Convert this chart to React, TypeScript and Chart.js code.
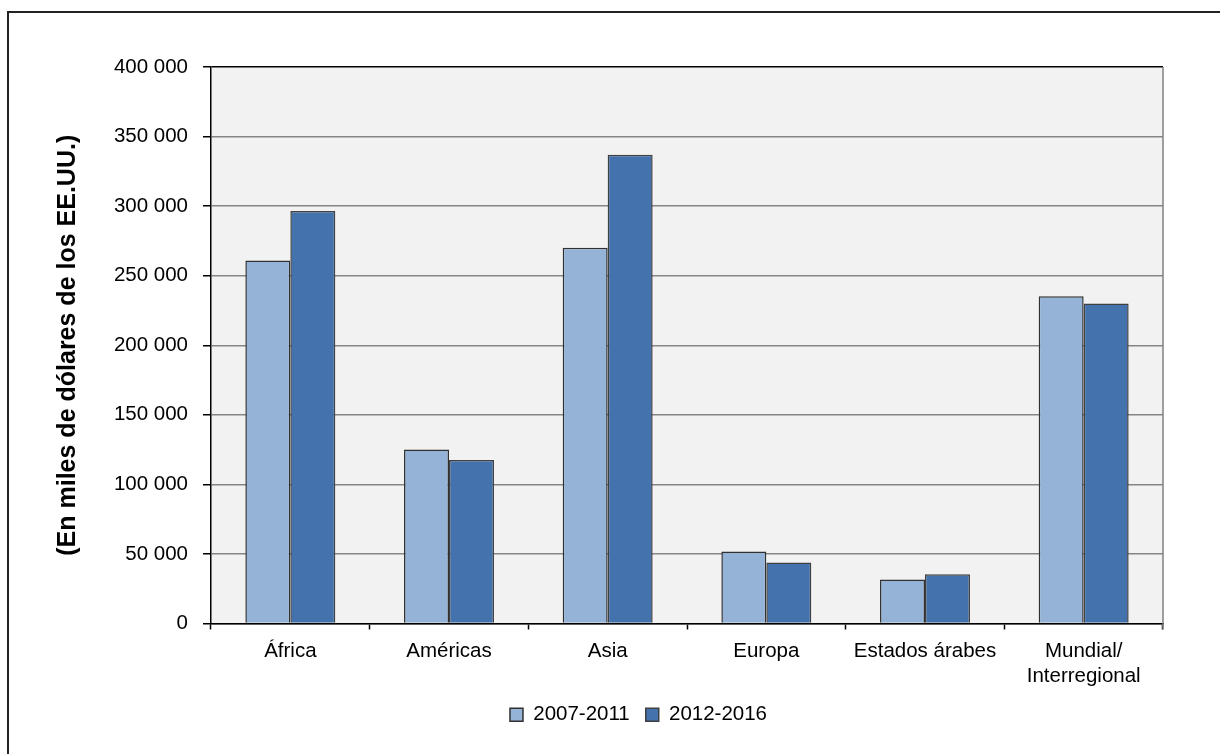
import React, { useEffect, useRef } from 'react';
import { Chart, registerables } from 'chart.js';

Chart.register(...registerables);

const categories: (string | string[])[] = ['África', 'Américas', 'Asia', 'Europa', 'Estados árabes', ['Mundial/', 'Interregional']];
const seriesLabels = ['2007-2011', '2012-2016'];
const values2007_2011 = [261000, 125000, 270000, 51700, 31600, 235300];
const values2012_2016 = [296500, 117500, 337000, 43800, 35400, 230000];
const yMin = 0;
const yMax = 400000;
const yStep = 50000;
const yTitle = '(En miles de dólares de los EE.UU.)';

const FONT = '"Liberation Sans", Arial, sans-serif';

const formatThousands = (v: number) => String(v).replace(/\B(?=(\d{3})+(?!\d))/g, ' ');

const plotDecor = {
  id: 'plotDecor',
  beforeDraw(chart: any) {
    const { ctx, chartArea } = chart;
    ctx.save();
    ctx.fillStyle = '#f2f2f2';
    ctx.fillRect(chartArea.left, chartArea.top, chartArea.right - chartArea.left, chartArea.bottom - chartArea.top);
    ctx.restore();
  },
  afterDraw(chart: any) {
    const { ctx, chartArea } = chart;
    ctx.save();
    ctx.strokeStyle = '#808080';
    ctx.lineWidth = 1.5;
    ctx.beginPath();
    ctx.moveTo(chartArea.right, chartArea.top);
    ctx.lineTo(chartArea.right, chartArea.bottom + 6);
    ctx.stroke();
    ctx.restore();
  },
  afterLayout(chart: any) {
    const lg = chart.legend;
    if (lg) {
      lg.left += 57;
      lg.right += 57;
    }
  },
};

export default function App() {
  const ref = useRef<HTMLCanvasElement | null>(null);

  useEffect(() => {
    if (!ref.current) return;
    Chart.defaults.font.family = FONT;
    Chart.defaults.color = '#000';
    const chart = new Chart(ref.current, {
      type: 'bar',
      data: {
        labels: categories,
        datasets: [
          {
            label: seriesLabels[0],
            data: values2007_2011,
            backgroundColor: '#95b3d7',
            borderColor: '#303030',
            borderWidth: 1.5,
          },
          {
            label: seriesLabels[1],
            data: values2012_2016,
            backgroundColor: '#4372ad',
            borderColor: '#404040',
            borderWidth: 1.5,
          },
        ],
      },
      options: {
        responsive: true,
        maintainAspectRatio: false,
        animation: false,
        datasets: {
          bar: { categoryPercentage: 0.567, barPercentage: 1 },
        },
        layout: { padding: { top: 67, left: 0, right: 57, bottom: 19 } },
        plugins: {
          tooltip: { enabled: false },
          legend: {
            position: 'bottom',
            labels: {
              boxWidth: 13,
              boxHeight: 13,
              padding: 16,
              color: '#000',
              font: { size: 20.5, family: FONT },
            },
          },
        },
        scales: {
          x: {
            offset: true,
            grid: {
              display: true,
              offset: true,
              drawOnChartArea: false,
              drawTicks: true,
              tickLength: 6,
              tickColor: '#000',
              tickWidth: 1.5,
            },
            border: { display: true, color: '#000', width: 1.5 },
            ticks: {
              color: '#000',
              padding: 10,
              maxRotation: 0,
              autoSkip: false,
              font: { size: 20.5, family: FONT, lineHeight: 1.2 },
            },
            afterFit(scale: any) {
              scale.height = 65;
            },
          },
          y: {
            min: yMin,
            max: yMax,
            ticks: {
              stepSize: yStep,
              color: '#000',
              padding: 15,
              font: { size: 20.5, family: FONT },
              callback: (v: any) => formatThousands(Number(v)),
            },
            grid: {
              color: (c: any) => (c.tick && c.tick.value === yMax ? '#000' : '#858585'),
              lineWidth: 1.5,
              drawTicks: true,
              tickLength: 8,
              tickColor: '#000',
              tickWidth: 1.5,
            },
            border: { display: true, color: '#000', width: 1.5 },
            title: {
              display: true,
              text: yTitle,
              color: '#000',
              padding: { top: 53, bottom: 0 },
              font: { size: 25, weight: 'bold', family: FONT, lineHeight: 1.2 },
            },
            afterFit(scale: any) {
              scale.width = 211;
            },
          },
        },
      },
      plugins: [plotDecor],
    } as any);
    return () => chart.destroy();
  }, []);

  return (
    <div style={{ position: 'relative', width: 1220, height: 754, overflow: 'hidden', background: '#fff' }}>
      <style>{'body{margin:0;overflow:hidden;}'}</style>
      <div
        style={{
          position: 'absolute',
          left: 7,
          top: 11,
          width: 1400,
          height: 900,
          borderTop: '2px solid #222',
          borderLeft: '2px solid #222',
          boxSizing: 'border-box',
        }}
      />
      <div style={{ position: 'absolute', left: 0, top: 0, width: 1220, height: 754 }}>
        <canvas ref={ref} />
      </div>
    </div>
  );
}
